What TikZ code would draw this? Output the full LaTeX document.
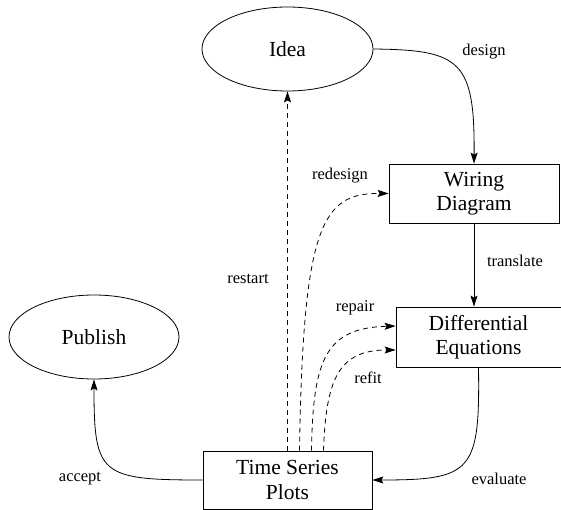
\documentclass[tikz,border=0pt]{standalone}
\usepackage{fontspec}
\setmainfont{Liberation Serif}
\usepackage{tikz}
\usetikzlibrary{shapes.geometric, arrows.meta}
\tikzset{
  stage/.style={
    ellipse, draw=black, line width=0.8pt,
    inner sep=0pt,
    minimum width=171pt, minimum height=84pt,
    font=\fontsize{21.5}{24.5}\selectfont
  },
  block/.style={
    rectangle, draw=black, line width=0.8pt,
    inner sep=0pt,
    minimum width=170pt, minimum height=59pt,
    align=center,
    font=\fontsize{21.5}{24.5}\selectfont
  },
  flow/.style={
    -{Stealth[length=11pt, width=7pt, inset=2pt]},
    black, line width=0.8pt
  },
  retry/.style={
    flow, dash pattern=on 5pt off 4pt
  },
  edgelabel/.style={font=\fontsize{16.5}{19}\selectfont, inner sep=0pt}
}

\begin{document}
\begin{tikzpicture}[x=1pt, y=-1pt]
        \path[use as bounding box] (0,0) rectangle (561,510);
        \node[stage] (idea) at (287.5, 49) {Idea};
        \node[stage, minimum width=170pt] (publish) at (94, 337) {Publish};
        \node[block] (wiring) at (474, 193.5) {Wiring\\Diagram};
        \node[block, minimum width=165pt, minimum height=60pt] (diffeq) at (478.5, 337) {Differential\\Equations};
        \node[block, minimum width=169pt, minimum height=58pt] (tsp) at (287.5, 480) {Time Series\\Plots};
        \draw[flow] (idea.east) .. controls (460, 50) and (475, 60) .. (wiring.north);
        \draw[flow] (wiring.south) -- (wiring.south |- diffeq.north);
        \draw[flow] (diffeq.south) .. controls (480, 472) and (472, 480) .. (tsp.east);
        \draw[flow] (tsp.west) .. controls (100, 480) and (94, 475) .. (publish.south);
        \draw[retry] (tsp.north) -- (idea.south);
        \draw[retry] ([xshift=12pt]tsp.north) .. controls (303, 225) and (322, 193) .. (wiring.west);
        \draw[retry] ([xshift=24pt]tsp.north) .. controls (313, 360) and (325, 328) .. ([yshift=11pt]diffeq.west);
        \draw[retry] ([xshift=36pt]tsp.north) .. controls (326, 380) and (338, 350) .. ([yshift=-13pt]diffeq.west);
        \node[edgelabel] (designlbl) at (484, 52) {design};
        \node[edgelabel] (translatelbl) at (515, 261) {translate};
        \node[edgelabel] (evaluatelbl) at (499, 479) {evaluate};
        \node[edgelabel] (acceptlbl) at (80, 479) {accept};
        \node[edgelabel] (restartlbl) at (248, 279) {restart};
        \node[edgelabel] (redesignlbl) at (340, 176) {redesign};
        \node[edgelabel] (repairlbl) at (355, 308) {repair};
        \node[edgelabel] (refitlbl) at (368, 378) {refit};
      \end{tikzpicture}
\end{document}
